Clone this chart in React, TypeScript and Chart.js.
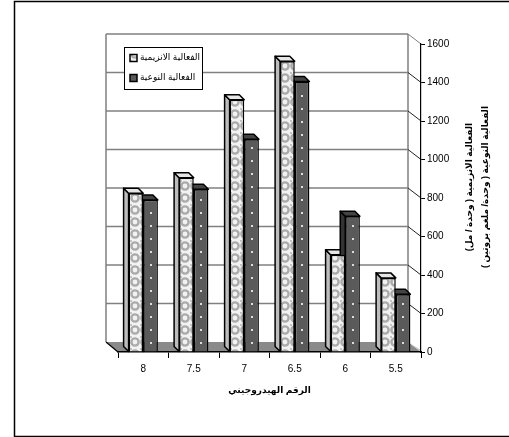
import React, { useEffect, useRef } from 'react';
import { Chart, registerables } from 'chart.js';

Chart.register(...registerables);

const categories = ['8', '7.5', '7', '6.5', '6', '5.5'];
const enzymeActivity = [825, 905, 1310, 1510, 505, 385];
const specificActivity = [790, 845, 1105, 1405, 705, 300];
const yMin = 0;
const yMax = 1600;
const yStep = 200;
const seriesNames = ['الفعالية الانزيمية', 'الفعالية النوعية'];
const xTitle = 'الرقم الهيدروجيني';
const yTitleLines = ['الفعالية الانزيمية ( وحدة / مل)', 'الفعالية النوعية ( وحدة/ ملغم بروتين )'];

const FONT = '"Liberation Sans", Arial, "DejaVu Sans", sans-serif';
const DARK = '#5a5a5a';

function makeLightPattern(): CanvasPattern | string {
  const c = document.createElement('canvas');
  c.width = 10;
  c.height = 12;
  const g = c.getContext('2d');
  if (!g) return '#d0d0d0';
  g.fillStyle = '#f2f2f2';
  g.fillRect(0, 0, 10, 12);
  g.strokeStyle = '#ababab';
  g.lineWidth = 2.4;
  g.beginPath();
  g.ellipse(5, 6, 3.6, 3.6, 0, 0, Math.PI * 2);
  g.stroke();
  g.fillStyle = '#c4c4c4';
  g.fillRect(0, 0, 2, 2);
  const p = g.createPattern(c, 'repeat');
  return p || '#d0d0d0';
}

export default function App() {
  const ref = useRef<HTMLCanvasElement | null>(null);

  useEffect(() => {
    const canvas = ref.current;
    if (!canvas) return;
    const lightPattern = makeLightPattern();
    const DX = -5;
    const DY = -5;
    const WX = -13;
    const WY = -10;

    const scene = {
      id: 'scene',
      beforeDraw(chart: any) {
        const ctx = chart.ctx;
        const a = chart.chartArea;
        const ys = chart.scales.y;
        ctx.save();
        ctx.strokeStyle = '#000';
        ctx.lineWidth = 1.5;
        ctx.strokeRect(14.5, 1.5, 520, 435);
        const bL = a.left + WX + 1;
        const bR = a.right + WX;
        const bB = a.bottom + WY;
        const bT = a.top + WY;
        ctx.fillStyle = '#8a8a8a';
        ctx.beginPath();
        ctx.moveTo(bL, bB);
        ctx.lineTo(bR, bB);
        ctx.lineTo(a.right, a.bottom);
        ctx.lineTo(a.left, a.bottom);
        ctx.closePath();
        ctx.fill();
        ctx.strokeStyle = '#000';
        ctx.lineWidth = 1.2;
        ctx.beginPath();
        ctx.moveTo(bL, bB);
        ctx.lineTo(a.left, a.bottom);
        ctx.stroke();
        ctx.fillStyle = '#c8c8c8';
        ctx.beginPath();
        ctx.moveTo(bR, bB);
        ctx.lineTo(a.right, a.bottom);
        ctx.lineTo(a.right, a.bottom - 2);
        ctx.closePath();
        ctx.fill();
        ctx.strokeStyle = '#808080';
        ctx.lineWidth = 1.5;
        ctx.beginPath();
        ctx.moveTo(bL, bB);
        ctx.lineTo(bL, bT);
        ctx.moveTo(bR, bB);
        ctx.lineTo(bR, bT);
        ctx.stroke();
        for (let v = yMin + yStep; v <= yMax; v += yStep) {
          const yy = ys.getPixelForValue(v);
          ctx.strokeStyle = '#808080';
          ctx.lineWidth = 1.5;
          ctx.beginPath();
          ctx.moveTo(bL, yy + WY);
          ctx.lineTo(bR, yy + WY);
          ctx.stroke();
          ctx.strokeStyle = v === yMax ? '#808080' : '#222';
          ctx.lineWidth = 1;
          ctx.beginPath();
          ctx.moveTo(bR, yy + WY);
          ctx.lineTo(a.right, yy);
          ctx.stroke();
        }
        ctx.restore();
      },
      beforeDatasetsDraw(chart: any) {
        const ctx = chart.ctx;
        ctx.save();
        ctx.lineJoin = 'round';
        for (let d = 0; d < chart.data.datasets.length; d++) {
          const meta = chart.getDatasetMeta(d);
          const topFill = d === 0 ? '#e6e6e6' : '#444';
          const sideFill = d === 0 ? '#bdbdbd' : '#333';
          meta.data.forEach((el: any) => {
            const w = el.width;
            const l = el.x - w / 2;
            const r = el.x + w / 2;
            const t = el.y;
            const b = el.base;
            ctx.lineWidth = 1.5;
            ctx.strokeStyle = '#000';
            ctx.fillStyle = sideFill;
            ctx.beginPath();
            ctx.moveTo(l, t);
            ctx.lineTo(l + DX, t + DY);
            ctx.lineTo(l + DX, b + DY);
            ctx.lineTo(l, b);
            ctx.closePath();
            ctx.fill();
            ctx.stroke();
            ctx.fillStyle = topFill;
            ctx.beginPath();
            ctx.moveTo(l, t);
            ctx.lineTo(r, t);
            ctx.lineTo(r + DX, t + DY);
            ctx.lineTo(l + DX, t + DY);
            ctx.closePath();
            ctx.fill();
            ctx.stroke();
          });
        }
        ctx.restore();
      },
      afterDatasetsDraw(chart: any) {
        const ctx = chart.ctx;
        const meta = chart.getDatasetMeta(1);
        ctx.save();
        ctx.fillStyle = '#dcdcdc';
        meta.data.forEach((el: any) => {
          for (let yy = el.base - 9; yy > el.y + 5; yy -= 13) {
            ctx.fillRect(Math.round(el.x) - 1, Math.round(yy) - 1, 2, 2);
          }
        });
        ctx.restore();
      },
      afterDraw(chart: any) {
        const ctx = chart.ctx;
        const a = chart.chartArea;
        ctx.save();
        ctx.fillStyle = '#fff';
        ctx.fillRect(124.5, 47.5, 78, 42);
        ctx.strokeStyle = '#000';
        ctx.lineWidth = 1;
        ctx.strokeRect(124.5, 47.5, 78, 42);
        const fills = [lightPattern, DARK];
        const rows = [58, 78];
        for (let i = 0; i < 2; i++) {
          ctx.fillStyle = fills[i] as any;
          ctx.fillRect(130, rows[i] - 3.5, 7, 7);
          ctx.lineWidth = 1.5;
          ctx.strokeStyle = '#000';
          ctx.strokeRect(130, rows[i] - 3.5, 7, 7);
          ctx.fillStyle = '#000';
          ctx.font = '9px ' + FONT;
          ctx.textAlign = 'left';
          ctx.textBaseline = 'middle';
          (ctx as any).direction = 'rtl';
          ctx.fillText(seriesNames[i], 140, rows[i]);
        }
        ctx.font = 'bold 9px ' + FONT;
        ctx.textAlign = 'center';
        ctx.textBaseline = 'middle';
        (ctx as any).direction = 'rtl';
        ctx.fillText(xTitle, (a.left + a.right) / 2, 391);
        const cy = 187;
        const xs = [470, 486];
        for (let i = 0; i < yTitleLines.length; i++) {
          ctx.save();
          ctx.translate(xs[i], cy);
          ctx.rotate(-Math.PI / 2);
          ctx.fillText(yTitleLines[i], 0, 0);
          ctx.restore();
        }
        ctx.restore();
      },
    };

    const chart = new Chart(canvas, {
      type: 'bar',
      data: {
        labels: categories,
        datasets: [
          {
            label: seriesNames[0],
            data: enzymeActivity,
            backgroundColor: lightPattern as any,
            borderColor: '#000',
            borderWidth: 1.5,
          },
          {
            label: seriesNames[1],
            data: specificActivity,
            backgroundColor: DARK,
            borderColor: '#000',
            borderWidth: 1.5,
          },
        ],
      },
      options: {
        responsive: false,
        animation: false,
        devicePixelRatio: 1,
        datasets: {
          bar: { categoryPercentage: 0.58, barPercentage: 1 },
        },
        layout: { padding: { left: 118, top: 44, right: 0, bottom: 0 } },
        plugins: {
          legend: { display: false },
          title: { display: false },
          tooltip: { enabled: false },
        },
        scales: {
          x: {
            grid: {
              display: true,
              offset: true,
              drawOnChartArea: false,
              drawTicks: true,
              tickLength: 6,
              color: '#000',
              lineWidth: 1,
            },
            border: { display: true, color: '#000', width: 1.5 },
            ticks: {
              color: '#000',
              font: { family: FONT, size: 10 },
              padding: 5,
              maxRotation: 0,
            },
            afterFit: (s: any) => {
              s.height = 85;
            },
          },
          y: {
            position: 'right',
            min: yMin,
            max: yMax,
            ticks: {
              stepSize: yStep,
              color: '#000',
              font: { family: FONT, size: 10 },
              padding: 2,
              callback: (v: any) => String(v),
            },
            grid: {
              display: true,
              drawOnChartArea: false,
              drawTicks: true,
              tickLength: 4,
              color: '#000',
              lineWidth: 1,
            },
            border: { display: true, color: '#000', width: 1.2 },
            afterFit: (s: any) => {
              s.width = 88;
            },
          },
        },
      },
      plugins: [scene],
    } as any);

    return () => {
      chart.destroy();
    };
  }, []);

  return (
    <div style={{ position: 'fixed', left: 0, top: 0, width: 509, height: 437, background: '#fff' }}>
      <canvas ref={ref} width={509} height={437} style={{ display: 'block', width: 509, height: 437 }} />
    </div>
  );
}
